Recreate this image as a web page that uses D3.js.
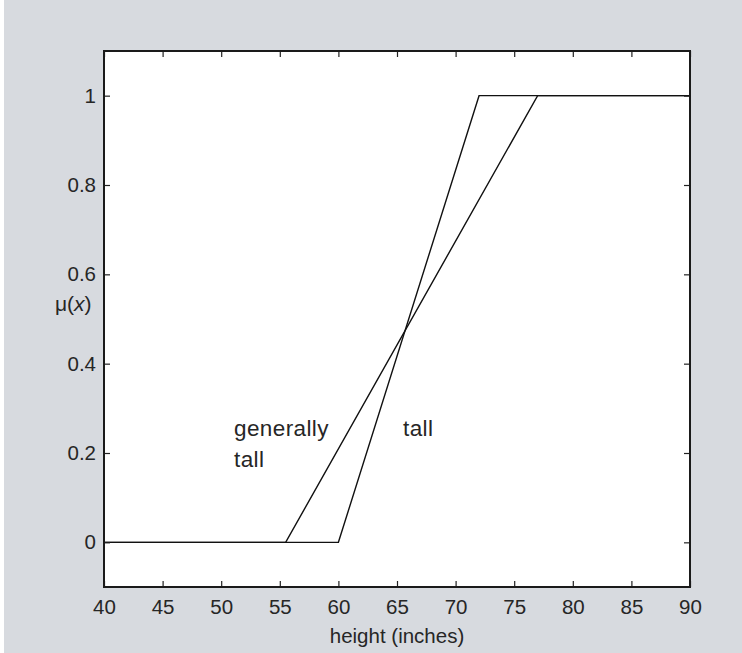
<!DOCTYPE html>
<html lang="en">
<head>
    <meta charset="UTF-8">
    <title>Fuzzy set: tall vs generally tall</title>
    <script src="https://d3js.org/d3.v7.min.js"></script>
    <style>
        body {
            margin: 0;
            background-color: #fff;
        }
        text {
            font-family: "Liberation Sans", Arial, sans-serif;
            fill: #262626;
        }
        .axis text {
            font-size: 20.5px;
        }
        .curve {
            fill: none;
            stroke: #111;
            stroke-width: 1.4px;
        }
    </style>
</head>
<body>
    <svg id="chart" width="742" height="653"></svg>
    <script>
// membership functions (breakpoints)
const tallX = [40, 60, 72, 90];
const tallY = [0, 0, 1, 1];
const generallyX = [40, 55.5, 77, 90];
const generallyY = [0, 0, 1, 1];

const xTicks = [40, 45, 50, 55, 60, 65, 70, 75, 80, 85, 90];
const yTicks = [0, 0.2, 0.4, 0.6, 0.8, 1];

const svg = d3.select("#chart");

// page background (panel)
svg.append("rect")
    .attr("x", 4).attr("y", 0)
    .attr("width", 738).attr("height", 653)
    .attr("fill", "#d7dadf");

const plotLeft = 104, plotRight = 690, plotTop = 51, plotBottom = 587;

const x = d3.scaleLinear().domain([40, 90]).range([plotLeft, plotRight]);
const y = d3.scaleLinear().domain([-0.1, 1.1]).range([plotBottom, plotTop]);

// plot area
svg.append("rect")
    .attr("x", plotLeft).attr("y", plotTop)
    .attr("width", plotRight - plotLeft).attr("height", plotBottom - plotTop)
    .attr("fill", "#fff");

// curves
const line = d3.line().x(d => x(d[0])).y(d => y(d[1]));

svg.append("path")
    .attr("class", "curve")
    .attr("d", line(tallX.map((v, i) => [v, tallY[i]])));

svg.append("path")
    .attr("class", "curve")
    .attr("d", line(generallyX.map((v, i) => [v, generallyY[i]])));

// axes with inward ticks on all four sides
const fmt = d => d === 0 || d === 1 ? String(d) : d3.format(".1f")(d);

svg.append("g")
    .attr("class", "axis")
    .attr("transform", `translate(0,${plotBottom})`)
    .call(d3.axisBottom(x).tickValues(xTicks).tickSizeInner(-6).tickSizeOuter(0).tickPadding(12));

svg.append("g")
    .attr("class", "axis")
    .attr("transform", `translate(0,${plotTop})`)
    .call(d3.axisTop(x).tickValues(xTicks).tickSizeInner(-6).tickSizeOuter(0).tickFormat(""));

svg.append("g")
    .attr("class", "axis")
    .attr("transform", `translate(${plotLeft},0)`)
    .call(d3.axisLeft(y).tickValues(yTicks).tickSizeInner(-6).tickSizeOuter(0).tickPadding(8).tickFormat(fmt));

svg.append("g")
    .attr("class", "axis")
    .attr("transform", `translate(${plotRight},0)`)
    .call(d3.axisRight(y).tickValues(yTicks).tickSizeInner(-6).tickSizeOuter(0).tickFormat(""));

svg.selectAll(".axis .domain").remove();
svg.selectAll(".axis line").attr("stroke", "#222").attr("stroke-width", 1.2);
svg.selectAll(".axis text").attr("fill", "#262626");

// box frame
svg.append("rect")
    .attr("x", plotLeft).attr("y", plotTop)
    .attr("width", plotRight - plotLeft).attr("height", plotBottom - plotTop)
    .attr("fill", "none")
    .attr("stroke", "#1a1a1a")
    .attr("stroke-width", 2);

// axis titles
svg.append("text")
    .attr("x", (plotLeft + plotRight) / 2)
    .attr("y", 643)
    .attr("text-anchor", "middle")
    .style("font-size", "20.5px")
    .text("height (inches)");

const mu = svg.append("text")
    .attr("x", 55)
    .attr("y", 311)
    .style("font-size", "21px");
mu.append("tspan").text("\u03bc(");
mu.append("tspan").style("font-style", "italic").text("x");
mu.append("tspan").text(")");

// curve labels
svg.append("text")
    .attr("x", 234).attr("y", 436)
    .style("font-size", "22.5px")
    .style("letter-spacing", "0.4px")
    .text("generally");
svg.append("text")
    .attr("x", 234).attr("y", 467)
    .style("font-size", "22.5px")
    .style("letter-spacing", "0.4px")
    .text("tall");
svg.append("text")
    .attr("x", 403).attr("y", 436)
    .style("font-size", "22.5px")
    .style("letter-spacing", "0.4px")
    .text("tall");
    </script>
</body>
</html>
